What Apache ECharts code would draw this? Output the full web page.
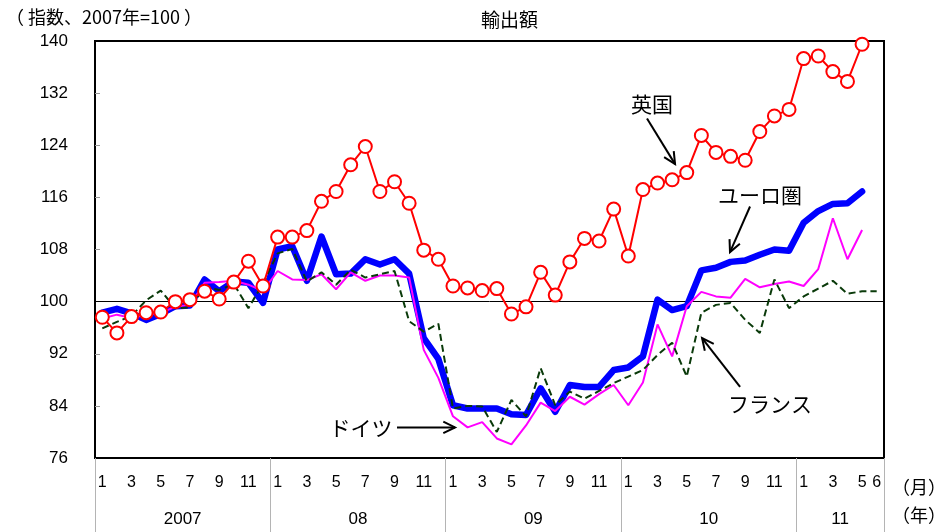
<!DOCTYPE html>
<html>
<head>
<meta charset="utf-8">
<script src="https://cdn.jsdelivr.net/npm/echarts@6/dist/echarts.min.js"></script>
<style>
  html, body { margin: 0; padding: 0; background: #fff; }
  #chart { width: 948px; height: 532px; }
</style>
</head>
<body>
<div id="chart"></div>
<script>
// Monthly export index (2007 = 100), Jan 2007 – Jun 2011
const years = ['2007', '08', '09', '10', '11'];
const monthsPerYear = [12, 12, 12, 12, 6];
const yTicks = [76, 84, 92, 100, 108, 116, 124, 132, 140];

const uk = [
  97.6, 95.2, 97.7, 98.3, 98.4, 100.0, 100.3, 101.6, 100.4, 103.0, 106.2, 102.4,
  109.9, 109.9, 110.9, 115.4, 116.9, 121.0, 123.8, 116.9, 118.4, 115.1, 107.9, 106.5,
  102.4, 102.1, 101.7, 102.0, 98.1, 99.2, 104.5, 101.0, 106.1, 109.7, 109.3, 114.2,
  107.0, 117.2, 118.2, 118.7, 119.8, 125.5, 122.9, 122.3, 121.7, 126.1, 128.5, 129.5,
  137.3, 137.7, 135.3, 133.8, 139.5, null
];
const euroArea = [
  98.3, 98.9, 98.2, 97.2, 98.1, 99.3, 99.4, 103.4, 101.6, 103.1, 102.9, 99.8,
  108.0, 108.5, 103.2, 110.0, 104.2, 104.3, 106.5, 105.7, 106.5, 104.3, 94.4, 91.2,
  84.1, 83.6, 83.6, 83.6, 82.7, 82.6, 86.7, 83.1, 87.2, 86.9, 86.9, 89.5,
  89.9, 91.6, 100.3, 98.7, 99.3, 104.8, 105.2, 106.1, 106.3, 107.2, 108.0, 107.8,
  112.1, 113.9, 115.0, 115.1, 116.9, null
];
const germany = [
  97.4, 98.0, 97.5, 98.0, 98.3, 99.2, 99.5, 102.9, 103.0, 103.2, 102.6, 101.6,
  104.7, 103.4, 103.3, 104.2, 101.9, 104.5, 103.2, 104.0, 104.0, 103.7, 92.6, 88.3,
  82.4, 80.7, 81.5, 79.0, 78.1, 81.0, 84.5, 83.2, 85.4, 84.2, 85.8, 87.2,
  84.1, 87.6, 96.5, 91.6, 99.3, 101.5, 100.8, 100.6, 103.5, 102.2, 102.7, 103.1,
  102.4, 105.0, 112.8, 106.5, 111.0, null
];
const france = [
  95.9, 96.9, 97.8, 100.2, 101.7, 99.0, 99.1, 102.2, 101.8, 102.7, 99.0, 102.8,
  107.4, 108.1, 103.1, 104.5, 102.6, 104.9, 103.7, 104.2, 104.7, 97.0, 95.4, 96.6,
  83.6, 84.0, 83.9, 80.0, 84.9, 82.4, 89.8, 84.1, 86.2, 85.1, 86.3, 87.5,
  88.5, 89.5, 91.8, 93.7, 88.5, 98.3, 99.5, 99.8, 97.2, 95.2, 103.4, 99.0,
  100.8, 102.0, 103.2, 101.2, 101.6, 101.6
];

// Category list "year-month" and the month number shown under each tick
const categories = [];
const monthNumbers = [];
years.forEach((y, yi) => {
  for (let m = 1; m <= monthsPerYear[yi]; m++) {
    categories.push(y + '-' + m);
    monthNumbers.push(m);
  }
});
const lastIndex = categories.length - 1;

// Year boundaries and year-label centres on a 0..N month scale
const yearEdges = [0];
monthsPerYear.forEach(n => yearEdges.push(yearEdges[yearEdges.length - 1] + n));
const yearMids = monthsPerYear.map((n, i) => yearEdges[i] + n / 2);

// Callout labels with arrows, positioned in (month-scale, index) units
const callouts = [
  { text: '英国',     at: [38.12, 130.4], from: [37.78, 128.1], to: [39.70, 121.1] },
  { text: 'ユーロ圏', at: [45.51, 116.3], from: [44.83, 114.6], to: [43.46, 107.6] },
  { text: 'フランス', at: [46.20, 84.3],  from: [44.15, 86.9],  to: [41.55, 94.4] },
  { text: 'ドイツ',   at: [18.20, 80.6],  from: [20.67, 80.7],  to: [24.64, 80.7] }
];

const FONT_NUM = '"Liberation Sans", Arial, "Noto Sans CJK JP", sans-serif';
const FONT_JP = '"Noto Sans CJK JP", "Liberation Sans", sans-serif';

const chart = echarts.init(document.getElementById('chart'), null, { renderer: 'canvas' });

const option = {
  animation: false,
  backgroundColor: '#fff',
  title: {
    text: '輸出額',
    left: 476,
    top: 5,
    textStyle: { fontSize: 19, fontWeight: 'normal', color: '#000', fontFamily: FONT_JP }
  },
  grid: {
    left: 95, right: 64, top: 41, bottom: 74,
    show: true, borderColor: '#000', borderWidth: 2, backgroundColor: 'transparent'
  },
  xAxis: [
    {
      type: 'category',
      data: categories,
      boundaryGap: true,
      position: 'bottom',
      axisLine: { show: true, lineStyle: { color: '#000', width: 2 } },
      axisTick: { show: false },
      splitLine: { show: false },
      axisLabel: {
        interval: (i) => monthNumbers[i] % 2 === 1 || i === lastIndex,
        formatter: (v, i) => String(monthNumbers[i]),
        margin: 17,
        fontSize: 16,
        color: '#000',
        fontFamily: FONT_NUM
      }
    },
    {
      type: 'value',
      min: 0,
      max: yearEdges[yearEdges.length - 1],
      position: 'bottom',
      axisLine: { show: false },
      splitLine: { show: false },
      axisTick: {
        show: true,
        inside: false,
        length: 76,
        customValues: yearEdges,
        lineStyle: { color: '#b4b4b4', width: 1 }
      },
      axisLabel: {
        customValues: yearMids,
        formatter: (v) => years[yearMids.indexOf(v)] || '',
        margin: 53,
        fontSize: 17,
        color: '#000',
        fontFamily: FONT_NUM
      }
    }
  ],
  yAxis: {
    type: 'value',
    min: yTicks[0],
    max: yTicks[yTicks.length - 1],
    axisLine: { show: true, lineStyle: { color: '#000', width: 2 } },
    splitLine: { show: false },
    axisTick: {
      show: true,
      inside: true,
      length: 5,
      customValues: yTicks.slice(1, -1),
      lineStyle: { color: '#999', width: 1 }
    },
    axisLabel: {
      customValues: yTicks,
      margin: 27,
      fontSize: 17,
      color: '#000',
      fontFamily: FONT_NUM
    }
  },
  series: [
    {
      name: 'ユーロ圏',
      type: 'line',
      data: euroArea,
      symbol: 'none',
      z: 2,
      lineStyle: { color: '#0000ff', width: 6.5, join: 'round', cap: 'round' },
      markLine: {
        silent: true,
        symbol: 'none',
        label: { show: false },
        lineStyle: { color: '#000', width: 1, type: 'solid' },
        data: [{ yAxis: 100 }],
        z: 1
      }
    },
    {
      name: 'ドイツ',
      type: 'line',
      data: germany,
      symbol: 'none',
      z: 3,
      lineStyle: { color: '#ff00ff', width: 2 }
    },
    {
      name: 'フランス',
      type: 'line',
      data: france,
      symbol: 'none',
      z: 4,
      lineStyle: { color: '#0a3a0a', width: 2, type: [7, 4] }
    },
    {
      name: '英国',
      type: 'line',
      data: uk,
      z: 5,
      symbol: 'circle',
      symbolSize: 13,
      showAllSymbol: true,
      lineStyle: { color: '#ff0000', width: 2 },
      itemStyle: { color: '#fff', borderColor: '#ff0000', borderWidth: 2 }
    }
  ]
};

chart.setOption(option);

// Fixed texts and callout arrows
function toPx(p, v) {
  return [
    chart.convertToPixel({ xAxisIndex: 1 }, p),
    chart.convertToPixel({ yAxisIndex: 0 }, v)
  ];
}

function arrowHead(from, to, len, spread) {
  const ang = Math.atan2(to[1] - from[1], to[0] - from[0]);
  const a1 = ang + Math.PI - spread;
  const a2 = ang + Math.PI + spread;
  return [
    [to[0] + len * Math.cos(a1), to[1] + len * Math.sin(a1)],
    to,
    [to[0] + len * Math.cos(a2), to[1] + len * Math.sin(a2)]
  ];
}

const graphics = [
  {
    type: 'text', x: 6, y: 17,
    style: { text: '（ 指数、2007年=100 ）', fill: '#000', font: '18px ' + FONT_JP, align: 'left', verticalAlign: 'middle' }
  },
  {
    type: 'text', x: 892, y: 487,
    style: { text: '（月）', fill: '#000', font: '18px ' + FONT_JP, align: 'left', verticalAlign: 'middle' }
  },
  {
    type: 'text', x: 892, y: 515,
    style: { text: '（年）', fill: '#000', font: '18px ' + FONT_JP, align: 'left', verticalAlign: 'middle' }
  }
];

callouts.forEach(c => {
  const at = toPx(c.at[0], c.at[1]);
  const from = toPx(c.from[0], c.from[1]);
  const to = toPx(c.to[0], c.to[1]);
  graphics.push({
    type: 'text', x: at[0], y: at[1], z: 10,
    style: { text: c.text, fill: '#000', font: '21px ' + FONT_JP, align: 'center', verticalAlign: 'middle' }
  });
  graphics.push({
    type: 'polyline', z: 10,
    shape: { points: [from, to] },
    style: { stroke: '#000', lineWidth: 2, fill: null }
  });
  graphics.push({
    type: 'polyline', z: 10,
    shape: { points: arrowHead(from, to, 13, 0.45) },
    style: { stroke: '#000', lineWidth: 2, fill: null }
  });
});

chart.setOption({ graphic: graphics });
</script>
</body>
</html>
